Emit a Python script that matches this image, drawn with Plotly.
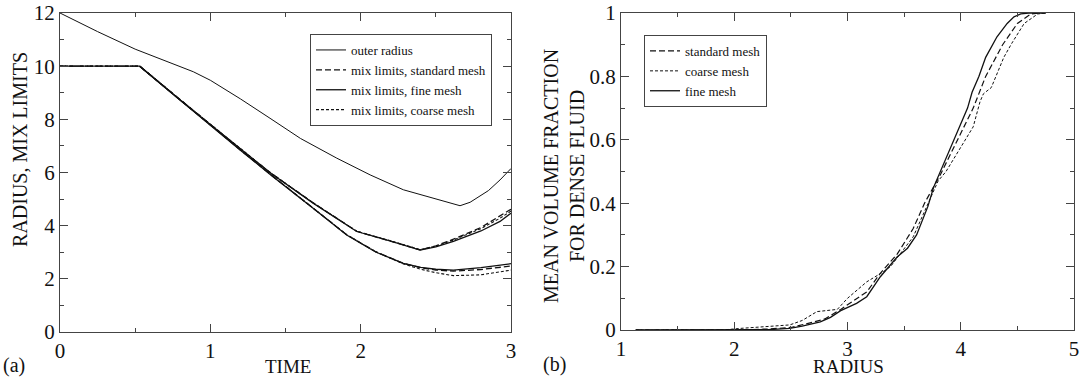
import plotly.graph_objects as go

# ---------------- panel (a) data ----------------
t_outer = [0.0, 0.25, 0.5, 0.75, 0.887, 1.0, 1.2, 1.397, 1.6, 1.841, 2.063, 2.284, 2.506, 2.661, 2.728, 2.85, 2.927, 3.0]
r_outer = [12.0, 11.3, 10.64, 10.1, 9.79, 9.47, 8.77, 8.04, 7.28, 6.54, 5.91, 5.35, 4.98, 4.75, 4.88, 5.32, 5.72, 6.15]

# upper mix limit branch
t_up = [0.0, 0.53, 0.8, 1.0, 1.2, 1.4, 1.686, 1.974, 2.2, 2.395, 2.5, 2.617, 2.8, 2.927, 3.0]
up_standard = [10.0, 10.0, 8.74, 7.81, 6.88, 5.99, 4.85, 3.79, 3.42, 3.09, 3.24, 3.49, 3.93, 4.35, 4.62]
up_fine = [10.0, 10.0, 8.72, 7.80, 6.87, 5.98, 4.84, 3.78, 3.42, 3.08, 3.20, 3.41, 3.80, 4.16, 4.47]
up_coarse = [10.0, 10.0, 8.73, 7.81, 6.88, 5.99, 4.85, 3.79, 3.43, 3.10, 3.23, 3.46, 3.89, 4.28, 4.55]

# lower mix limit branch
t_low = [0.53, 0.8, 1.0, 1.2, 1.4, 1.686, 1.907, 2.0, 2.1, 2.284, 2.4, 2.5, 2.617, 2.8, 2.927, 3.0]
low_standard = [10.0, 8.72, 7.79, 6.85, 5.93, 4.66, 3.66, 3.35, 3.02, 2.58, 2.42, 2.33, 2.29, 2.35, 2.43, 2.48]
low_fine = [10.0, 8.71, 7.78, 6.84, 5.92, 4.65, 3.65, 3.34, 3.01, 2.58, 2.43, 2.36, 2.33, 2.42, 2.52, 2.57]
low_coarse = [10.0, 8.72, 7.79, 6.85, 5.93, 4.66, 3.66, 3.35, 3.02, 2.56, 2.36, 2.23, 2.12, 2.15, 2.27, 2.33]

# ---------------- panel (b) data ----------------
r_fine = [1.13, 2.0, 2.3, 2.49, 2.6, 2.76, 2.85, 2.94, 3.08, 3.17, 3.29, 3.44, 3.53, 3.61, 3.71, 3.76, 3.82, 3.94, 4.0, 4.06, 4.10, 4.16, 4.22, 4.29, 4.32, 4.41, 4.47, 4.53, 4.6, 4.75]
v_fine = [0.0, 0.0, 0.001, 0.005, 0.012, 0.026, 0.04, 0.061, 0.084, 0.105, 0.168, 0.231, 0.258, 0.30, 0.39, 0.45, 0.50, 0.60, 0.645, 0.70, 0.75, 0.80, 0.86, 0.905, 0.925, 0.967, 0.988, 0.997, 1.0, 1.0]

r_standard = [1.13, 2.0, 2.3, 2.5, 2.7, 2.8, 2.94, 3.08, 3.17, 3.29, 3.44, 3.58, 3.68, 3.82, 3.97, 4.11, 4.22, 4.37, 4.50, 4.62, 4.7, 4.75]
v_standard = [0.0, 0.0, 0.003, 0.008, 0.025, 0.035, 0.065, 0.10, 0.12, 0.179, 0.24, 0.32, 0.40, 0.49, 0.60, 0.70, 0.80, 0.90, 0.967, 0.997, 1.0, 1.0]

r_coarse = [1.13, 1.9, 2.05, 2.3, 2.49, 2.6, 2.73, 2.91, 3.0, 3.17, 3.3, 3.38, 3.58, 3.7, 3.8, 3.87, 4.02, 4.11, 4.17, 4.20, 4.27, 4.31, 4.38, 4.45, 4.56, 4.68, 4.75]
v_coarse = [0.0, 0.0, 0.005, 0.01, 0.016, 0.03, 0.058, 0.065, 0.10, 0.152, 0.18, 0.20, 0.294, 0.39, 0.47, 0.50, 0.59, 0.641, 0.72, 0.745, 0.765, 0.80, 0.86, 0.904, 0.967, 0.997, 1.0]

FONT = "Liberation Serif"
BLACK = "#111111"
AX = "#444444"


def both(a, b):
    return list(a) + [None] + list(b)


fig = go.Figure()

# panel (a)
fig.add_trace(go.Scatter(x=t_outer, y=r_outer, mode="lines", name="outer radius",
                         line=dict(color=BLACK, width=1), legend="legend", xaxis="x", yaxis="y"))
fig.add_trace(go.Scatter(x=both(t_up, t_low), y=both(up_standard, low_standard), mode="lines",
                         name="mix limits, standard mesh", connectgaps=False,
                         line=dict(color=BLACK, width=1.3, dash="6px,3px"), legend="legend", xaxis="x", yaxis="y"))
fig.add_trace(go.Scatter(x=both(t_up, t_low), y=both(up_fine, low_fine), mode="lines",
                         name="mix limits, fine mesh", connectgaps=False,
                         line=dict(color=BLACK, width=1.3), legend="legend", xaxis="x", yaxis="y"))
fig.add_trace(go.Scatter(x=both(t_up, t_low), y=both(up_coarse, low_coarse), mode="lines",
                         name="mix limits, coarse mesh", connectgaps=False,
                         line=dict(color=BLACK, width=1.1, dash="3px,2px"), legend="legend", xaxis="x", yaxis="y"))

# panel (b)
fig.add_trace(go.Scatter(x=r_standard, y=v_standard, mode="lines", name="standard mesh",
                         line=dict(color=BLACK, width=1.2, dash="6px,3px"), legend="legend2", xaxis="x2", yaxis="y2"))
fig.add_trace(go.Scatter(x=r_coarse, y=v_coarse, mode="lines", name="coarse mesh",
                         line=dict(color=BLACK, width=1.0, dash="3px,2px"), legend="legend2", xaxis="x2", yaxis="y2"))
fig.add_trace(go.Scatter(x=r_fine, y=v_fine, mode="lines", name="fine mesh",
                         line=dict(color=BLACK, width=1.3), legend="legend2", xaxis="x2", yaxis="y2"))

W, H = 1080, 378


def px_x(p):
    return p / W


def px_y(p):
    return 1 - p / H


axis_common = dict(
    showline=True, linecolor=AX, linewidth=1.2, mirror="allticks",
    ticks="inside", ticklen=8, tickwidth=1, tickcolor=AX,
    showgrid=False, zeroline=False, automargin=False,
    tickfont=dict(family=FONT, size=21, color=BLACK),
)

legend_common = dict(xanchor="left", yanchor="top", bordercolor=AX, borderwidth=1, bgcolor="white",
                     font=dict(family=FONT, size=13, color=BLACK), itemwidth=30, tracegroupgap=0)

fig.update_layout(
    template="none",
    width=W, height=H,
    margin=dict(l=0, r=0, t=0, b=0, pad=0),
    paper_bgcolor="white", plot_bgcolor="white",
    font=dict(family=FONT, color=BLACK),
    xaxis=dict(domain=[px_x(60), px_x(511)], range=[0, 3], dtick=1, tick0=0,
               minor=dict(dtick=0.5, ticks="inside", ticklen=4, tickcolor=AX), anchor="y", **axis_common),
    yaxis=dict(domain=[px_y(332), px_y(13)], range=[0, 12], dtick=2, tick0=0,
               minor=dict(dtick=1, ticks="inside", ticklen=4, tickcolor=AX), anchor="x", **axis_common),
    xaxis2=dict(domain=[px_x(621), px_x(1074)], range=[1, 5], dtick=1, tick0=1,
                minor=dict(dtick=0.5, ticks="inside", ticklen=4, tickcolor=AX), anchor="y2", **axis_common),
    yaxis2=dict(domain=[px_y(330), px_y(13)], range=[0, 1], dtick=0.2, tick0=0,
                minor=dict(dtick=0.1, ticks="inside", ticklen=4, tickcolor=AX), anchor="x2", **axis_common),
    legend=dict(x=px_x(310), y=px_y(34), **legend_common),
    legend2=dict(x=px_x(644), y=px_y(35), **legend_common),
    showlegend=True,
)

ann_font = dict(family=FONT, size=19, color=BLACK)
fig.add_annotation(text="TIME", x=px_x(288), y=px_y(366), xref="paper", yref="paper",
                   showarrow=False, font=ann_font, xanchor="center", yanchor="middle")
fig.add_annotation(text="RADIUS, MIX LIMITS", x=px_x(20), y=px_y(150), xref="paper", yref="paper",
                   showarrow=False, font=dict(family=FONT, size=20, color=BLACK), textangle=-90,
                   xanchor="center", yanchor="middle")
fig.add_annotation(text="RADIUS", x=px_x(848), y=px_y(366), xref="paper", yref="paper",
                   showarrow=False, font=ann_font, xanchor="center", yanchor="middle")
fig.add_annotation(text="MEAN VOLUME FRACTION<br>FOR DENSE FLUID", x=px_x(564), y=px_y(176),
                   xref="paper", yref="paper", showarrow=False, font=dict(family=FONT, size=20, color=BLACK),
                   textangle=-90, xanchor="center", yanchor="middle")
fig.add_annotation(text="(a)", x=px_x(1), y=px_y(365), xref="paper", yref="paper",
                   showarrow=False, font=dict(family=FONT, size=20, color=BLACK), xanchor="left", yanchor="middle")
fig.add_annotation(text="(b)", x=px_x(541), y=px_y(364), xref="paper", yref="paper",
                   showarrow=False, font=dict(family=FONT, size=20, color=BLACK), xanchor="left", yanchor="middle")

fig.write_html("out.html")
